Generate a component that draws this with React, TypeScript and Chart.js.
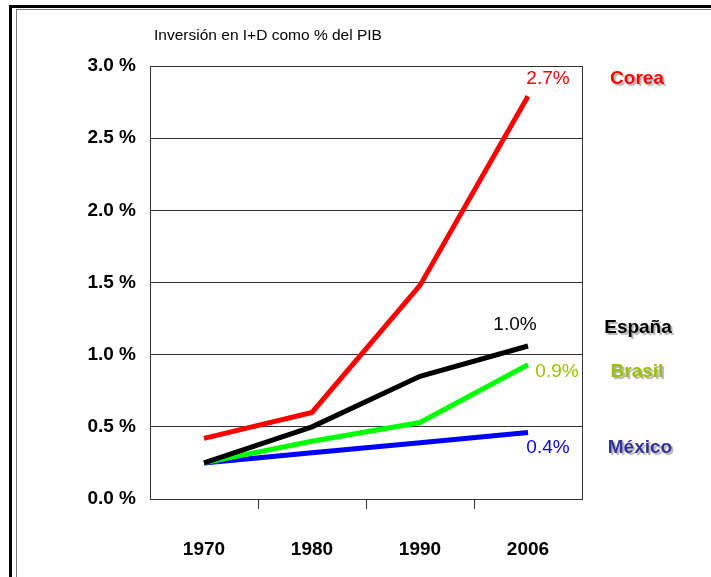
import React, { useEffect, useRef } from "react";
import { Chart, registerables } from "chart.js";

Chart.register(...registerables);

const categories = ["1970", "1980", "1990", "2006"];
const corea = [0.42, 0.6, 1.48, 2.79];
const espana = [0.25, 0.5, 0.85, 1.06];
const brasil = [0.25, 0.4, 0.53, 0.93];
const mexico = [0.25, 0.32, 0.39, 0.46];
const seriesNames = ["Corea", "España", "Brasil", "México"];
const valueLabels = ["2.7%", "1.0%", "0.9%", "0.4%"];
const yMin = 0;
const yMax = 3;
const yStep = 0.5;
const titleText = "Inversión en I+D como % del PIB";

const lineColors = ["#ff0000", "#000000", "#00ff00", "#0000ff"];
const valueColors = ["#ff0000", "#000000", "#99c000", "#0000ff"];
const nameColors = ["#ff0000", "#000000", "#99c000", "#333399"];
// annotation placement (pixels)
const valuePos = [
  [548, 79],
  [515, 325],
  [557, 372],
  [548, 448],
];
const namePos = [
  [637, 79],
  [638, 328],
  [637, 372],
  [640, 448],
];

const FONT = "'Liberation Sans', Arial, sans-serif";
const AXIS = "#333333";

const annotPlugin = {
  id: "annot",
  afterDraw(chart: any) {
    const { ctx, chartArea } = chart;
    ctx.save();
    // right border of plot box
    ctx.strokeStyle = AXIS;
    ctx.lineWidth = 1;
    ctx.beginPath();
    const rx = Math.round(chartArea.right) + 0.5;
    ctx.moveTo(rx, Math.round(chartArea.top));
    ctx.lineTo(rx, Math.round(chartArea.bottom) + 1);
    ctx.stroke();

    // title
    ctx.fillStyle = "#000";
    ctx.font = `15.5px ${FONT}`;
    ctx.textAlign = "center";
    ctx.textBaseline = "middle";
    ctx.fillText(titleText, 268, 36);

    // value labels
    ctx.font = `19px ${FONT}`;
    valueLabels.forEach((t, i) => {
      ctx.fillStyle = valueColors[i];
      ctx.fillText(t, valuePos[i][0], valuePos[i][1]);
    });

    // series names with shadow
    ctx.font = `bold 19px ${FONT}`;
    seriesNames.forEach((t, i) => {
      ctx.save();
      ctx.shadowColor = "rgba(0,0,0,0.3)";
      ctx.shadowOffsetX = 2;
      ctx.shadowOffsetY = 2;
      ctx.shadowBlur = 1;
      ctx.fillStyle = nameColors[i];
      ctx.fillText(t, namePos[i][0], namePos[i][1]);
      ctx.restore();
    });
    ctx.restore();
  },
};

export default function App() {
  const ref = useRef<HTMLCanvasElement | null>(null);

  useEffect(() => {
    if (!ref.current) return;
    const series = [corea, espana, brasil, mexico];
    const chart = new Chart(ref.current, {
      type: "line",
      data: {
        labels: categories,
        datasets: series.map((d, i) => ({
          label: seriesNames[i],
          data: d,
          borderColor: lineColors[i],
          backgroundColor: lineColors[i],
          borderWidth: 5,
          pointRadius: 0,
          tension: 0,
          fill: false,
        })),
      },
      options: {
        responsive: false,
        animation: false,
        devicePixelRatio: 1,
        layout: { padding: { left: 10, top: 66, right: 129, bottom: 18 } },
        plugins: {
          legend: { display: false },
          title: { display: false },
          tooltip: { enabled: false },
        },
        scales: {
          x: {
            type: "category",
            offset: true,
            afterFit: (s: any) => {
              s.height = 60;
            },
            grid: {
              offset: true,
              drawOnChartArea: false,
              drawTicks: true,
              tickLength: 10,
              color: (c: any) =>
                c.index === undefined || c.index === 0 ? "rgba(0,0,0,0)" : AXIS,
              lineWidth: 1,
            },
            border: { display: true, color: AXIS, width: 1 },
            ticks: {
              color: "#000",
              font: { family: FONT, size: 19, weight: "bold" },
              padding: 29,
              maxRotation: 0,
            },
          },
          y: {
            min: yMin,
            max: yMax,
            afterFit: (s: any) => {
              s.width = 140;
            },
            grid: {
              drawTicks: false,
              color: AXIS,
              lineWidth: 1,
            },
            border: { display: true, color: AXIS, width: 1 },
            ticks: {
              stepSize: yStep,
              color: "#000",
              padding: 14,
              font: { family: FONT, size: 19, weight: "bold" },
              callback: (v: any) => Number(v).toFixed(1) + " %",
            },
          },
        },
      },
      plugins: [annotPlugin],
    });
    return () => chart.destroy();
  }, []);

  return (
    <div
      style={{
        position: "fixed",
        left: 0,
        top: 0,
        width: 711,
        height: 577,
        background: "#fff",
        overflow: "hidden",
      }}
    >
      <canvas
        ref={ref}
        width={711}
        height={577}
        style={{ position: "absolute", left: 0, top: 0, width: 711, height: 577 }}
      />
      {/* outer thick frame */}
      <div style={{ position: "absolute", left: 9, top: 5, width: 702, height: 3, background: "#000" }} />
      <div style={{ position: "absolute", left: 9, top: 5, width: 3, height: 572, background: "#000" }} />
      {/* inner thin frame */}
      <div style={{ position: "absolute", left: 16, top: 9, width: 695, height: 1, background: "#777" }} />
      <div style={{ position: "absolute", left: 16, top: 9, width: 1, height: 568, background: "#777" }} />
    </div>
  );
}
